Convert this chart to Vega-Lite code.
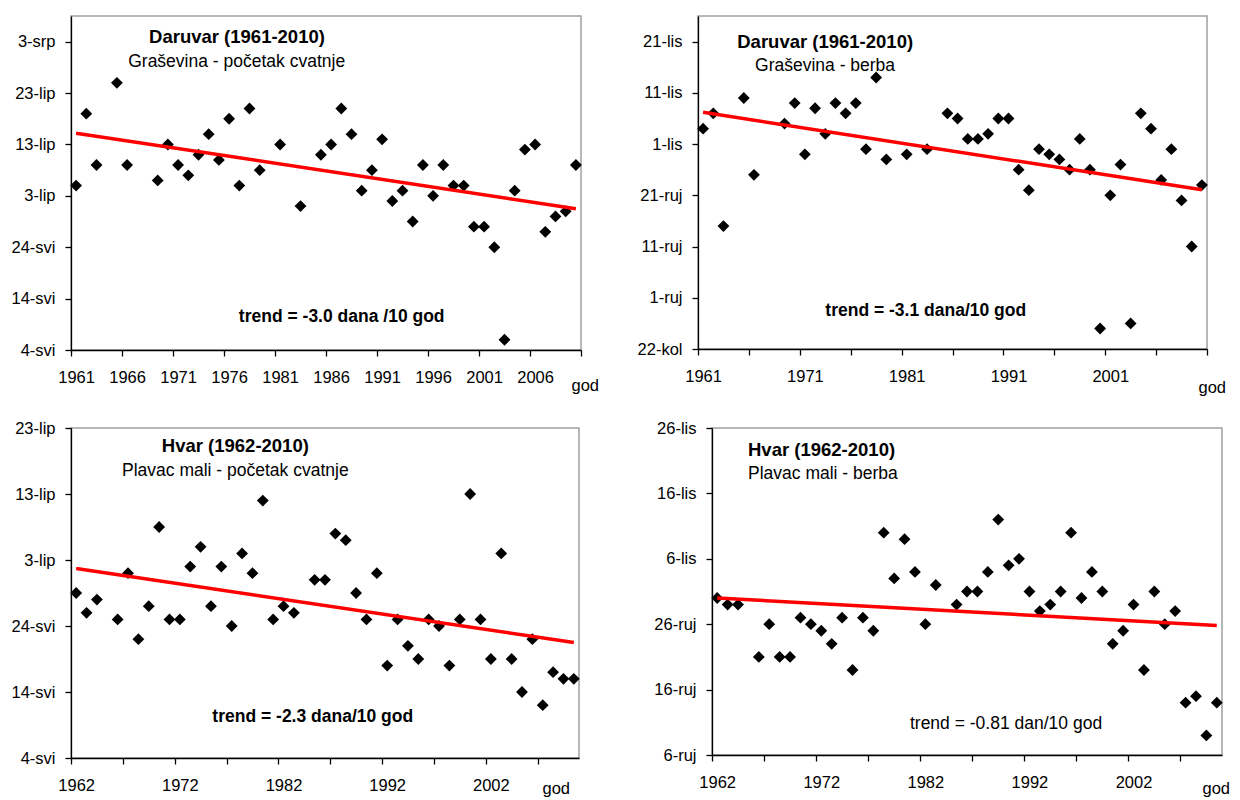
{
  "$schema": "https://vega.github.io/schema/vega-lite/v6.json",
  "padding": {"left": 1, "top": 15, "right": 0, "bottom": 0},
  "background": "white",
  "config": {
    "font": "Liberation Sans",
    "view": {"stroke": "#a0a0a0", "strokeWidth": 1.5},
    "axis": {"grid": false, "domainColor": "#000", "domainWidth": 1.3, "tickColor": "#000", "tickWidth": 1.3, "tickSize": 6, "labelFont": "Liberation Sans", "labelFontSize": 16.5, "labelColor": "#000", "labelOverlap": false, "labelFlush": false, "labelBound": false, "titleFont": "Liberation Sans", "titleFontSize": 16.5, "titleFontWeight": "normal", "titleColor": "#000"},
    "axisX": {"labelPadding": 13, "labelAngle": 0},
    "axisY": {"labelPadding": 10},
    "text": {"font": "Liberation Sans", "color": "#000"}
  },
  "datasets": {
    "p1": [
      {"year": 1961, "day": 156}, {"year": 1962, "day": 170}, {"year": 1963, "day": 160}, {"year": 1965, "day": 176}, {"year": 1966, "day": 160},
      {"year": 1969, "day": 157}, {"year": 1970, "day": 164}, {"year": 1971, "day": 160}, {"year": 1972, "day": 158}, {"year": 1973, "day": 162},
      {"year": 1974, "day": 166}, {"year": 1975, "day": 161}, {"year": 1976, "day": 169}, {"year": 1977, "day": 156}, {"year": 1978, "day": 171},
      {"year": 1979, "day": 159}, {"year": 1981, "day": 164}, {"year": 1983, "day": 152}, {"year": 1985, "day": 162}, {"year": 1986, "day": 164},
      {"year": 1987, "day": 171}, {"year": 1988, "day": 166}, {"year": 1989, "day": 155}, {"year": 1990, "day": 159}, {"year": 1991, "day": 165},
      {"year": 1992, "day": 153}, {"year": 1993, "day": 155}, {"year": 1994, "day": 149}, {"year": 1995, "day": 160}, {"year": 1996, "day": 154},
      {"year": 1997, "day": 160}, {"year": 1998, "day": 156}, {"year": 1999, "day": 156}, {"year": 2000, "day": 148}, {"year": 2001, "day": 148},
      {"year": 2002, "day": 144}, {"year": 2003, "day": 126}, {"year": 2004, "day": 155}, {"year": 2005, "day": 163}, {"year": 2006, "day": 164},
      {"year": 2007, "day": 147}, {"year": 2008, "day": 150}, {"year": 2009, "day": 151}, {"year": 2010, "day": 160}
    ],
    "t1": [{"year": 1961, "day": 166.2}, {"year": 2010, "day": 151.5}],
    "p2": [
      {"year": 1961, "day": 277}, {"year": 1962, "day": 280}, {"year": 1963, "day": 258}, {"year": 1965, "day": 283}, {"year": 1966, "day": 268},
      {"year": 1969, "day": 278}, {"year": 1970, "day": 282}, {"year": 1971, "day": 272}, {"year": 1972, "day": 281}, {"year": 1973, "day": 276},
      {"year": 1974, "day": 282}, {"year": 1975, "day": 280}, {"year": 1976, "day": 282}, {"year": 1977, "day": 273}, {"year": 1978, "day": 287},
      {"year": 1979, "day": 271}, {"year": 1981, "day": 272}, {"year": 1983, "day": 273}, {"year": 1985, "day": 280}, {"year": 1986, "day": 279},
      {"year": 1987, "day": 275}, {"year": 1988, "day": 275}, {"year": 1989, "day": 276}, {"year": 1990, "day": 279}, {"year": 1991, "day": 279},
      {"year": 1992, "day": 269}, {"year": 1993, "day": 265}, {"year": 1994, "day": 273}, {"year": 1995, "day": 272}, {"year": 1996, "day": 271},
      {"year": 1997, "day": 269}, {"year": 1998, "day": 275}, {"year": 1999, "day": 269}, {"year": 2000, "day": 238}, {"year": 2001, "day": 264},
      {"year": 2002, "day": 270}, {"year": 2003, "day": 239}, {"year": 2004, "day": 280}, {"year": 2005, "day": 277}, {"year": 2006, "day": 267},
      {"year": 2007, "day": 273}, {"year": 2008, "day": 263}, {"year": 2009, "day": 254}, {"year": 2010, "day": 266}
    ],
    "t2": [{"year": 1961, "day": 280.2}, {"year": 2010, "day": 265.1}],
    "p3": [
      {"year": 1962, "day": 149}, {"year": 1963, "day": 146}, {"year": 1964, "day": 148}, {"year": 1966, "day": 145}, {"year": 1967, "day": 152},
      {"year": 1968, "day": 142}, {"year": 1969, "day": 147}, {"year": 1970, "day": 159}, {"year": 1971, "day": 145}, {"year": 1972, "day": 145},
      {"year": 1973, "day": 153}, {"year": 1974, "day": 156}, {"year": 1975, "day": 147}, {"year": 1976, "day": 153}, {"year": 1977, "day": 144},
      {"year": 1978, "day": 155}, {"year": 1979, "day": 152}, {"year": 1980, "day": 163}, {"year": 1981, "day": 145}, {"year": 1982, "day": 147},
      {"year": 1983, "day": 146}, {"year": 1985, "day": 151}, {"year": 1986, "day": 151}, {"year": 1987, "day": 158}, {"year": 1988, "day": 157},
      {"year": 1989, "day": 149}, {"year": 1990, "day": 145}, {"year": 1991, "day": 152}, {"year": 1992, "day": 138}, {"year": 1993, "day": 145},
      {"year": 1994, "day": 141}, {"year": 1995, "day": 139}, {"year": 1996, "day": 145}, {"year": 1997, "day": 144}, {"year": 1998, "day": 138},
      {"year": 1999, "day": 145}, {"year": 2000, "day": 164}, {"year": 2001, "day": 145}, {"year": 2002, "day": 139}, {"year": 2003, "day": 155},
      {"year": 2004, "day": 139}, {"year": 2005, "day": 134}, {"year": 2006, "day": 142}, {"year": 2007, "day": 132}, {"year": 2008, "day": 137},
      {"year": 2009, "day": 136}, {"year": 2010, "day": 136}
    ],
    "t3": [{"year": 1962, "day": 152.7}, {"year": 2010, "day": 141.5}],
    "p4": [
      {"year": 1962, "day": 273}, {"year": 1963, "day": 272}, {"year": 1964, "day": 272}, {"year": 1966, "day": 264}, {"year": 1967, "day": 269},
      {"year": 1968, "day": 264}, {"year": 1969, "day": 264}, {"year": 1970, "day": 270}, {"year": 1971, "day": 269}, {"year": 1972, "day": 268},
      {"year": 1973, "day": 266}, {"year": 1974, "day": 270}, {"year": 1975, "day": 262}, {"year": 1976, "day": 270}, {"year": 1977, "day": 268},
      {"year": 1978, "day": 283}, {"year": 1979, "day": 276}, {"year": 1980, "day": 282}, {"year": 1981, "day": 277}, {"year": 1982, "day": 269},
      {"year": 1983, "day": 275}, {"year": 1985, "day": 272}, {"year": 1986, "day": 274}, {"year": 1987, "day": 274}, {"year": 1988, "day": 277},
      {"year": 1989, "day": 285}, {"year": 1990, "day": 278}, {"year": 1991, "day": 279}, {"year": 1992, "day": 274}, {"year": 1993, "day": 271},
      {"year": 1994, "day": 272}, {"year": 1995, "day": 274}, {"year": 1996, "day": 283}, {"year": 1997, "day": 273}, {"year": 1998, "day": 277},
      {"year": 1999, "day": 274}, {"year": 2000, "day": 266}, {"year": 2001, "day": 268}, {"year": 2002, "day": 272}, {"year": 2003, "day": 262},
      {"year": 2004, "day": 274}, {"year": 2005, "day": 269}, {"year": 2006, "day": 271}, {"year": 2007, "day": 257}, {"year": 2008, "day": 258},
      {"year": 2009, "day": 252}, {"year": 2010, "day": 257}
    ],
    "t4": [{"year": 1962, "day": 273.0}, {"year": 2010, "day": 268.8}]
  },
  "spacing": 22,
  "vconcat": [
    {
      "spacing": 36,
      "hconcat": [
        {
          "width": 510, "height": 334,
          "layer": [
            {
              "data": {"name": "p1"},
              "mark": {"type": "point", "shape": "diamond", "filled": true, "color": "#000", "size": 140, "opacity": 1},
              "encoding": {
                "x": {"field": "year", "type": "quantitative", "scale": {"domain": [1960.5, 2010.5], "nice": false, "zero": false},
                  "axis": {"values": [1960.5, 1965.5, 1970.5, 1975.5, 1980.5, 1985.5, 1990.5, 1995.5, 2000.5, 2005.5, 2010.5], "labelExpr": "datum.value < 2010 ? format(datum.value + 0.5, 'd') : ''", "labelOffset": 5.1, "title": "god", "titleX": 500, "titleY": 27, "titleAlign": "left", "titleBaseline": "top"}},
                "y": {"field": "day", "type": "quantitative", "scale": {"domain": [124, 189], "nice": false, "zero": false},
                  "axis": {"values": [124, 134, 144, 154, 164, 174, 184], "labelExpr": "date(datetime(2001,0,datum.value)) + '-' + ['sij','velj','ožu','tra','svi','lip','srp','kol','ruj','lis','stu','pro'][month(datetime(2001,0,datum.value))]", "title": null, "minExtent": 66, "maxExtent": 66}}
              }
            },
            {
              "data": {"name": "t1"},
              "mark": {"type": "line", "color": "#ff0000", "strokeWidth": 3.5},
              "encoding": {"x": {"field": "year", "type": "quantitative"}, "y": {"field": "day", "type": "quantitative"}}
            },
            {
              "data": {"values": [{}]},
              "mark": {"type": "text", "text": "Daruvar (1961-2010)", "fontWeight": "bold", "fontSize": 18.5, "align": "center", "baseline": "middle"},
              "encoding": {"x": {"datum": 1976.77, "type": "quantitative"}, "y": {"datum": 184.95, "type": "quantitative"}}
            },
            {
              "data": {"values": [{}]},
              "mark": {"type": "text", "text": "Graševina - početak cvatnje", "fontSize": 17.5, "align": "center", "baseline": "middle"},
              "encoding": {"x": {"datum": 1976.74, "type": "quantitative"}, "y": {"datum": 180.14, "type": "quantitative"}}
            },
            {
              "data": {"values": [{}]},
              "mark": {"type": "text", "text": "trend = -3.0 dana /10 god", "fontWeight": "bold", "fontSize": 17.5, "align": "center", "baseline": "middle"},
              "encoding": {"x": {"datum": 1987.04, "type": "quantitative"}, "y": {"datum": 130.42, "type": "quantitative"}}
            }
          ]
        },
        {
          "width": 509, "height": 333,
          "layer": [
            {
              "data": {"name": "p2"},
              "mark": {"type": "point", "shape": "diamond", "filled": true, "color": "#000", "size": 140, "opacity": 1},
              "encoding": {
                "x": {"field": "year", "type": "quantitative", "scale": {"domain": [1960.5, 2010.5], "nice": false, "zero": false},
                  "axis": {"values": [1960.5, 1965.5, 1970.5, 1975.5, 1980.5, 1985.5, 1990.5, 1995.5, 2000.5, 2005.5, 2010.5], "labelExpr": "(datum.value + 0.5 - 1961) % 10 == 0 && datum.value < 2010 ? format(datum.value + 0.5, 'd') : ''", "labelOffset": 5.09, "title": "god", "titleX": 500, "titleY": 30.5, "titleAlign": "left", "titleBaseline": "top"}},
                "y": {"field": "day", "type": "quantitative", "scale": {"domain": [234, 299], "nice": false, "zero": false},
                  "axis": {"values": [234, 244, 254, 264, 274, 284, 294], "labelExpr": "date(datetime(2001,0,datum.value)) + '-' + ['sij','velj','ožu','tra','svi','lip','srp','kol','ruj','lis','stu','pro'][month(datetime(2001,0,datum.value))]", "title": null, "minExtent": 60, "maxExtent": 60}}
              }
            },
            {
              "data": {"name": "t2"},
              "mark": {"type": "line", "color": "#ff0000", "strokeWidth": 3.5},
              "encoding": {"x": {"field": "year", "type": "quantitative"}, "y": {"field": "day", "type": "quantitative"}}
            },
            {
              "data": {"values": [{}]},
              "mark": {"type": "text", "text": "Daruvar (1961-2010)", "fontWeight": "bold", "fontSize": 18.5, "align": "center", "baseline": "middle"},
              "encoding": {"x": {"datum": 1972.99, "type": "quantitative"}, "y": {"datum": 293.96, "type": "quantitative"}}
            },
            {
              "data": {"values": [{}]},
              "mark": {"type": "text", "text": "Graševina - berba", "fontSize": 17.5, "align": "center", "baseline": "middle"},
              "encoding": {"x": {"datum": 1972.98, "type": "quantitative"}, "y": {"datum": 289.24, "type": "quantitative"}}
            },
            {
              "data": {"values": [{}]},
              "mark": {"type": "text", "text": "trend = -3.1 dana/10 god", "fontWeight": "bold", "fontSize": 17.5, "align": "center", "baseline": "middle"},
              "encoding": {"x": {"datum": 1982.87, "type": "quantitative"}, "y": {"datum": 241.42, "type": "quantitative"}}
            }
          ]
        }
      ]
    },
    {
      "spacing": 69,
      "hconcat": [
        {
          "width": 508, "height": 330,
          "layer": [
            {
              "data": {"name": "p3"},
              "mark": {"type": "point", "shape": "diamond", "filled": true, "color": "#000", "size": 140, "opacity": 1},
              "encoding": {
                "x": {"field": "year", "type": "quantitative", "scale": {"domain": [1961.5, 2010.5], "nice": false, "zero": false},
                  "axis": {"values": [1961.5, 1966.5, 1971.5, 1976.5, 1981.5, 1986.5, 1991.5, 1996.5, 2001.5, 2006.5], "labelExpr": "(datum.value + 0.5 - 1962) % 10 == 0 ? format(datum.value + 0.5, 'd') : ''", "labelOffset": 5.18, "title": "god", "titleX": 471, "titleY": 22, "titleAlign": "left", "titleBaseline": "top"}},
                "y": {"field": "day", "type": "quantitative", "scale": {"domain": [124, 174], "nice": false, "zero": false},
                  "axis": {"values": [124, 134, 144, 154, 164, 174], "labelExpr": "date(datetime(2001,0,datum.value)) + '-' + ['sij','velj','ožu','tra','svi','lip','srp','kol','ruj','lis','stu','pro'][month(datetime(2001,0,datum.value))]", "title": null, "minExtent": 69, "maxExtent": 69}}
              }
            },
            {
              "data": {"name": "t3"},
              "mark": {"type": "line", "color": "#ff0000", "strokeWidth": 3.5},
              "encoding": {"x": {"field": "year", "type": "quantitative"}, "y": {"field": "day", "type": "quantitative"}}
            },
            {
              "data": {"values": [{}]},
              "mark": {"type": "text", "text": "Hvar (1962-2010)", "fontWeight": "bold", "fontSize": 18.5, "align": "center", "baseline": "middle"},
              "encoding": {"x": {"datum": 1977.35, "type": "quantitative"}, "y": {"datum": 171.23, "type": "quantitative"}}
            },
            {
              "data": {"values": [{}]},
              "mark": {"type": "text", "text": "Plavac mali - početak cvatnje", "fontSize": 17.5, "align": "center", "baseline": "middle"},
              "encoding": {"x": {"datum": 1977.35, "type": "quantitative"}, "y": {"datum": 167.56, "type": "quantitative"}}
            },
            {
              "data": {"values": [{}]},
              "mark": {"type": "text", "text": "trend = -2.3 dana/10 god", "fontWeight": "bold", "fontSize": 17.5, "align": "center", "baseline": "middle"},
              "encoding": {"x": {"datum": 1984.82, "type": "quantitative"}, "y": {"datum": 130.26, "type": "quantitative"}}
            }
          ]
        },
        {
          "width": 510, "height": 327,
          "layer": [
            {
              "data": {"name": "p4"},
              "mark": {"type": "point", "shape": "diamond", "filled": true, "color": "#000", "size": 140, "opacity": 1},
              "encoding": {
                "x": {"field": "year", "type": "quantitative", "scale": {"domain": [1961.5, 2010.5], "nice": false, "zero": false},
                  "axis": {"values": [1961.5, 1966.5, 1971.5, 1976.5, 1981.5, 1986.5, 1991.5, 1996.5, 2001.5, 2006.5], "labelExpr": "(datum.value + 0.5 - 1962) % 10 == 0 ? format(datum.value + 0.5, 'd') : ''", "labelOffset": 5.2, "title": "god", "titleX": 490, "titleY": 25, "titleAlign": "left", "titleBaseline": "top"}},
                "y": {"field": "day", "type": "quantitative", "scale": {"domain": [249, 299], "nice": false, "zero": false},
                  "axis": {"values": [249, 259, 269, 279, 289, 299], "labelExpr": "date(datetime(2001,0,datum.value)) + '-' + ['sij','velj','ožu','tra','svi','lip','srp','kol','ruj','lis','stu','pro'][month(datetime(2001,0,datum.value))]", "title": null, "minExtent": 60, "maxExtent": 60}}
              }
            },
            {
              "data": {"name": "t4"},
              "mark": {"type": "line", "color": "#ff0000", "strokeWidth": 3.5},
              "encoding": {"x": {"field": "year", "type": "quantitative"}, "y": {"field": "day", "type": "quantitative"}}
            },
            {
              "data": {"values": [{}]},
              "mark": {"type": "text", "text": "Hvar (1962-2010)", "fontWeight": "bold", "fontSize": 18.5, "align": "left", "baseline": "middle"},
              "encoding": {"x": {"datum": 1964.96, "type": "quantitative"}, "y": {"datum": 295.64, "type": "quantitative"}}
            },
            {
              "data": {"values": [{}]},
              "mark": {"type": "text", "text": "Plavac mali - berba", "fontSize": 17.5, "align": "left", "baseline": "middle"},
              "encoding": {"x": {"datum": 1964.96, "type": "quantitative"}, "y": {"datum": 291.97, "type": "quantitative"}}
            },
            {
              "data": {"values": [{}]},
              "mark": {"type": "text", "text": "trend = -0.81 dan/10 god", "fontSize": 17.5, "align": "center", "baseline": "middle"},
              "encoding": {"x": {"datum": 1989.75, "type": "quantitative"}, "y": {"datum": 253.74, "type": "quantitative"}}
            }
          ]
        }
      ]
    }
  ]
}
